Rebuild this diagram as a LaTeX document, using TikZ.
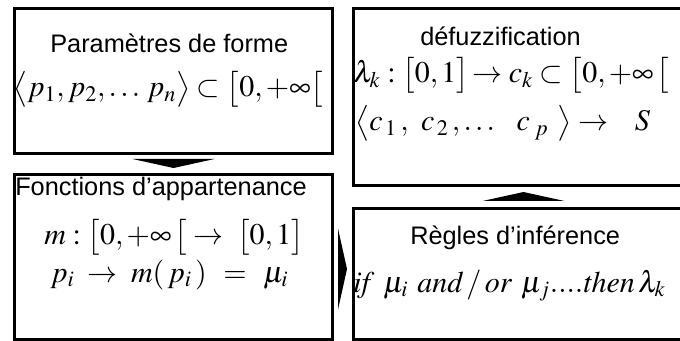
\documentclass[tikz,border=0pt]{standalone}
\usepackage{mathptmx}
\usepackage[no-math]{fontspec}
\setsansfont{Liberation Sans}
\usetikzlibrary{calc}
\begin{document}
\begin{tikzpicture}[x=0.75pt,y=-0.75pt,
  box/.style={draw,line width=2.25pt,inner sep=0pt,anchor=north west},
  lab/.style={font=\sffamily\fontsize{19}{22}\selectfont,inner sep=0pt,anchor=base west},
  eq/.style={font=\fontsize{22.5}{27}\selectfont,inner sep=0pt,anchor=base west},
  blockarrow/.style={fill=black,draw=none}]
\useasboundingbox (0,0) rectangle (680,341);
\clip (0,0) rectangle (680,341);
\fill[white] (0,0) rectangle (680,341);
% boxes
\node[box,minimum width=238.5pt,minimum height=108.75pt] (A) at (13,7) {};
\node[box,minimum width=238.5pt,minimum height=123.75pt] (B) at (13,173) {};
\node[box,minimum width=255pt,minimum height=132.75pt] (C) at (352,7) {};
\node[box,minimum width=255pt,minimum height=98.25pt] (D) at (352,207) {};
% texts
\node[lab] (tA) at (50,53) {Paramètres de forme};
\node[eq] (mA) at (13,97) {$\bigl\langle p_1, p_2,\ldots\, p_n\bigr\rangle \subset \bigl[0,+\infty\bigl[$};
\node[lab] (tB) at (15,196) {Fonctions d’appartenance};
\node[eq] (mB1) at (44,245) {$m:\bigl[0,+\infty\,\bigl[\;\to\;\bigl[0,1\bigr]$};
\node[eq] (mB2) at (50,282) {$p_i \;\to\; m(\,p_i\,)\;\,=\;\,\mu_i$};
\node[lab] (tC) at (420,46) {défuzzification};
\node[eq] (mC1) at (353,83) {$\lambda_k:\bigl[0,1\bigr]\!\to c_k\subset\bigl[0,+\infty\,\bigl[$};
\node[eq] (mC2) at (355,131) {$\bigl\langle c_{\,1}\,,\ c_{\,2}\,,\ldots\ \ c_{\;p}\ \bigr\rangle \to\;\;\; S$};
\node[lab] (tD) at (410,245) {Règles d’inférence};
\node[eq] (mD) at (353,292) {$\mathit{if}\ \mu_i\ \mathit{and}\,/\,\mathit{or}\ \mu_j....\mathit{then}\,\lambda_k$};
% block arrows
\fill[blockarrow] ($(A.south)+(-41,4)$) -- ($(A.south)+(41,4)$) -- ($(B.north)+(0,-5)$) -- cycle;
\fill[blockarrow] ($(D.north)+(-41,-6)$) -- ($(D.north)+(41,-6)$) -- ($(C.south)+(0,5)$) -- cycle;
\fill[blockarrow] ($(B.east)+(4,-28.5)$) -- ($(B.east)+(4,52.5)$) -- ($(D.west)+(-5,-5)$) -- cycle;
\end{tikzpicture}
\end{document}
